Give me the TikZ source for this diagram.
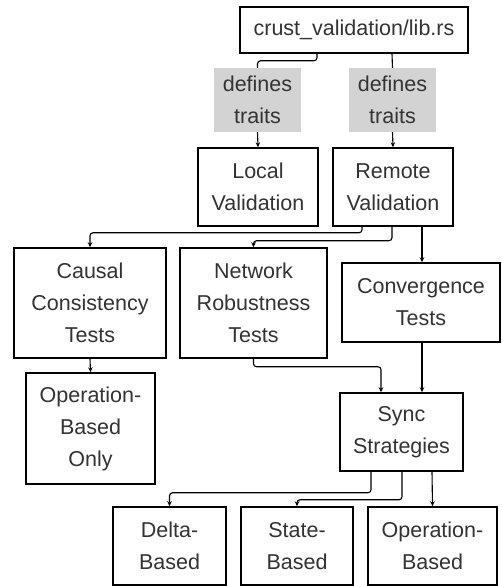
\documentclass[tikz,border=0pt]{standalone}
\usepackage{fontspec}
\setmainfont{Liberation Sans}
\usetikzlibrary{arrows.meta}
\definecolor{labelgray}{HTML}{D3D3D3}
\definecolor{textgray}{HTML}{333333}
\tikzset{
  box/.style={draw=black, line width=1.5pt, fill=white, align=center,
    text=textgray, inner sep=0pt, font=\fontsize{21.5}{32}\selectfont},
  edgelabel/.style={fill=labelgray, align=center, text=textgray, inner sep=0pt,
    minimum width=87pt, minimum height=64pt, font=\fontsize{21.5}{32}\selectfont},
  link/.style={draw=black, line width=1.1pt, rounded corners=3pt},
  conn/.style={link, -{Stealth[length=5pt,width=4.5pt]}}
}
\begin{document}
\begin{tikzpicture}[x=1pt, y=-1pt]
\useasboundingbox (0,0) rectangle (501,586);

% crate root
\node[box, minimum width=228pt, minimum height=46pt] (lib) at (354,30) {crust\_validation/lib.rs};

% trait labels on the two edges out of the crate root
\node[edgelabel] (defL) at (257.5,100) {defines\\traits};
\node[edgelabel] (defR) at (392.5,100) {defines\\traits};

% validation layers
\node[box, minimum width=120pt, minimum height=78pt] (local) at (258,187) {Local\\Validation};
\node[box, minimum width=120pt, minimum height=78pt] (remote) at (393,187) {Remote\\Validation};

% test suites
\node[box, minimum width=152pt, minimum height=110pt] (causal) at (90,303) {Causal\\Consistency\\Tests};
\node[box, minimum width=147pt, minimum height=110pt] (network) at (253.5,303) {Network\\Robustness\\Tests};
\node[box, minimum width=158pt, minimum height=79pt] (conv) at (421,302.5) {Convergence\\Tests};

\node[box, minimum width=129pt, minimum height=111pt] (oponly) at (90.5,428.5) {Operation-\\Based\\Only};
\node[box, minimum width=123pt, minimum height=78pt] (sync) at (401.5,432) {Sync\\Strategies};

% synchronisation strategies
\node[box, minimum width=113pt, minimum height=78pt] (delta) at (169.5,546) {Delta-\\Based};
\node[box, minimum width=112pt, minimum height=78pt] (state) at (297,546) {State-\\Based};
\node[box, minimum width=129pt, minimum height=78pt] (opbased) at (432.5,546) {Operation-\\Based};

% crate root -> validation layers, through the labels
\draw[link] ([xshift=-37pt]lib.south) -- ++(0,7) -| (defL.north);
\draw[conn] (defL.south) -- (local.north);
\draw[link] ([xshift=38pt]lib.south) -- (defR.north);
\draw[conn] (defR.south) -- (remote.north);

% remote validation -> test suites
\draw[conn] ([xshift=-31pt]remote.south) -- ++(0,6) -| (causal.north);
\draw[conn] ([xshift=-1pt]remote.south) -- ++(0,14) -| (network.north);
\draw[conn] ([xshift=29pt]remote.south) -- ([xshift=1pt]conv.north);

\draw[conn] (causal.south) -- (oponly.north);
\draw[conn] (network.south) -- ++(0,8) -| ([xshift=-20.5pt]sync.north);
\draw[conn] ([xshift=1pt]conv.south) -- ([xshift=20.5pt]sync.north);

% sync strategies -> variants
\draw[conn] ([xshift=-30.5pt]sync.south) -- ++(0,21) -| (delta.north);
\draw[conn] ([xshift=0.5pt]sync.south) -- ++(0,28) -| (state.north);
\draw[conn] ([xshift=30.5pt]sync.south) -- (opbased.north);
\end{tikzpicture}
\end{document}
